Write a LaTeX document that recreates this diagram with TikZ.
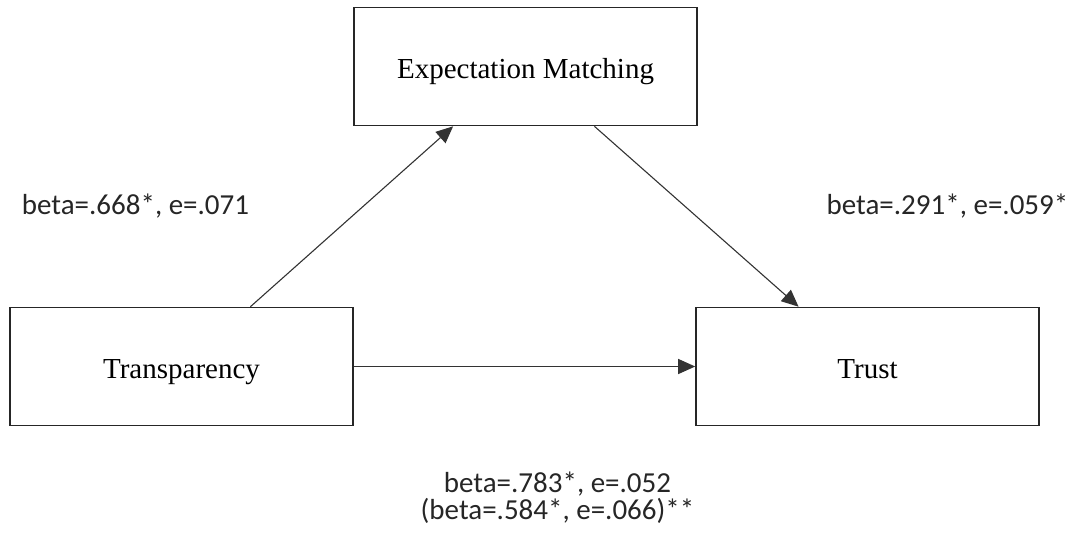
\documentclass[tikz,border=0pt]{standalone}
\usepackage{fontspec}
\setmainfont{Liberation Serif}
\newfontfamily\labelfont{Carlito}
\usetikzlibrary{arrows.meta,calc}

\begin{document}
\begin{tikzpicture}[x=1pt,y=-1pt]
        %
        % `varbox' is used for the three boxes.
        % `effect' is used for the arrows, `coef' for the coefficients.
        \tikzstyle{varbox} = [draw=black!85,line width=1.6pt,minimum width=343pt,minimum height=118pt,inner sep=0pt,text height=27pt,text depth=4pt,font=\fontsize{29}{34}\selectfont]
        \tikzstyle{effect} = [draw=black!80,line width=1.1pt,-{Triangle[length=17pt,width=15pt]}]
        \tikzstyle{coef} = [inner sep=0pt,align=center,anchor=base,font=\labelfont\fontsize{29}{27}\selectfont,text=black!85]
        %
        \useasboundingbox (0,0) rectangle (1070,536);
        %
        % Boxes
        \node[varbox] (expm) at (525.5,66.5) {Expectation Matching};
        \node[varbox] (trans) at (181.5,366.5) {Transparency};
        \node[varbox] (trust) at (867.5,366.5) {Trust};
        %
        % Arrows
        \draw[effect] ($(trans.north west)!0.70!(trans.north east)$) -- ($(expm.south west)!0.29!(expm.south east)$);
        \draw[effect] ($(expm.south west)!0.70!(expm.south east)$) -- ($(trust.north west)!0.30!(trust.north east)$);
        \draw[effect] (trans) -- (trust);
        %
        % Coefficients
        \node[coef] (coef1) at (135.5,214) {beta=.668*, e=.071};
        \node[coef] (coef2) at (947.5,214) {beta=.291*, e=.059*};
        \node[coef] (coef3) at (557.5,519) {beta=.783*, e=.052\\(beta=.584*, e=.066)**};
        %
\end{tikzpicture}
\end{document}
